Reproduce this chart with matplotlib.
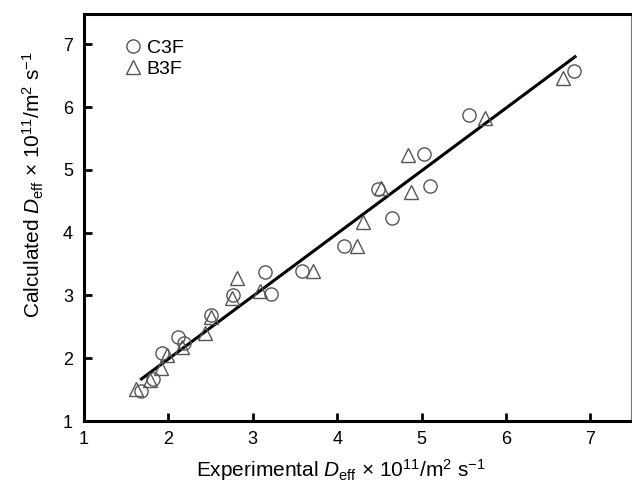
import matplotlib
matplotlib.use('Agg')
import matplotlib.pyplot as plt

plt.rcParams['font.family'] = ['Liberation Sans', 'DejaVu Sans']
plt.rcParams['mathtext.fontset'] = 'custom'
plt.rcParams['mathtext.rm'] = 'Liberation Sans'
plt.rcParams['mathtext.it'] = 'Liberation Sans:italic'

# C3F (circles)
c3f_x = [1.68, 1.82, 1.92, 2.11, 2.18, 2.51, 2.77, 3.15, 3.22, 3.58, 4.08,
         4.48, 4.65, 5.03, 5.10, 5.56, 6.81]
c3f_y = [1.48, 1.67, 2.08, 2.34, 2.24, 2.69, 3.01, 3.38, 3.02, 3.39, 3.78,
         4.69, 4.23, 5.25, 4.75, 5.87, 6.58]
# B3F (triangles)
b3f_x = [1.62, 1.78, 1.91, 1.98, 2.16, 2.43, 2.51, 2.75, 2.81, 3.08, 3.71,
         4.23, 4.31, 4.52, 4.84, 4.88, 5.75, 6.68]
b3f_y = [1.51, 1.65, 1.84, 2.05, 2.18, 2.40, 2.66, 2.96, 3.28, 3.07, 3.39,
         3.78, 4.17, 4.71, 5.24, 4.64, 5.82, 6.46]
# fitted line
fit_x = [1.68, 6.82]
fit_y = [1.67, 6.80]

ticks = [1, 2, 3, 4, 5, 6, 7]

fig = plt.figure(figsize=(6.32, 4.84), dpi=100)
ax = fig.add_axes([0.133, 0.130, 0.865, 0.841])

ax.plot(fit_x, fit_y, color='black', lw=2.2, zorder=2)
ax.plot(c3f_x, c3f_y, 'o', ms=9.5, mfc='none', mec='#555555', mew=1.0,
        label='C3F', zorder=3)
ax.plot(b3f_x, b3f_y, '^', ms=10.5, mfc='none', mec='#555555', mew=1.0,
        label='B3F', zorder=3)

ax.set_xlim(1, 7.48)
ax.set_ylim(1, 7.48)
ax.set_xticks(ticks)
ax.set_yticks(ticks)
ax.tick_params(direction='in', length=6, width=2, labelsize=13,
               colors='black', pad=7)
ax.tick_params(axis='y', pad=8)

for s in ['left', 'bottom', 'top']:
    ax.spines[s].set_linewidth(2.2)
ax.spines['right'].set_linewidth(0.8)
ax.spines['right'].set_color('#777777')

ax.set_xlabel(r'Experimental $D_{\mathrm{eff}}$ × 10$^{11}$/m$^2$ s$^{-1}$',
              fontsize=15)
ax.set_ylabel(r'Calculated $D_{\mathrm{eff}}$ × 10$^{11}$/m$^2$ s$^{-1}$',
              fontsize=15)
ax.xaxis.set_label_coords(0.47, -0.088)
ax.yaxis.set_label_coords(-0.07, 0.58)

ax.legend(loc='upper left', frameon=False, fontsize=14, handletextpad=0.1,
          handlelength=1.2, borderaxespad=0.6, labelspacing=0.15,
          bbox_to_anchor=(0.033, 0.985))

fig.savefig('out.png', dpi=100)
